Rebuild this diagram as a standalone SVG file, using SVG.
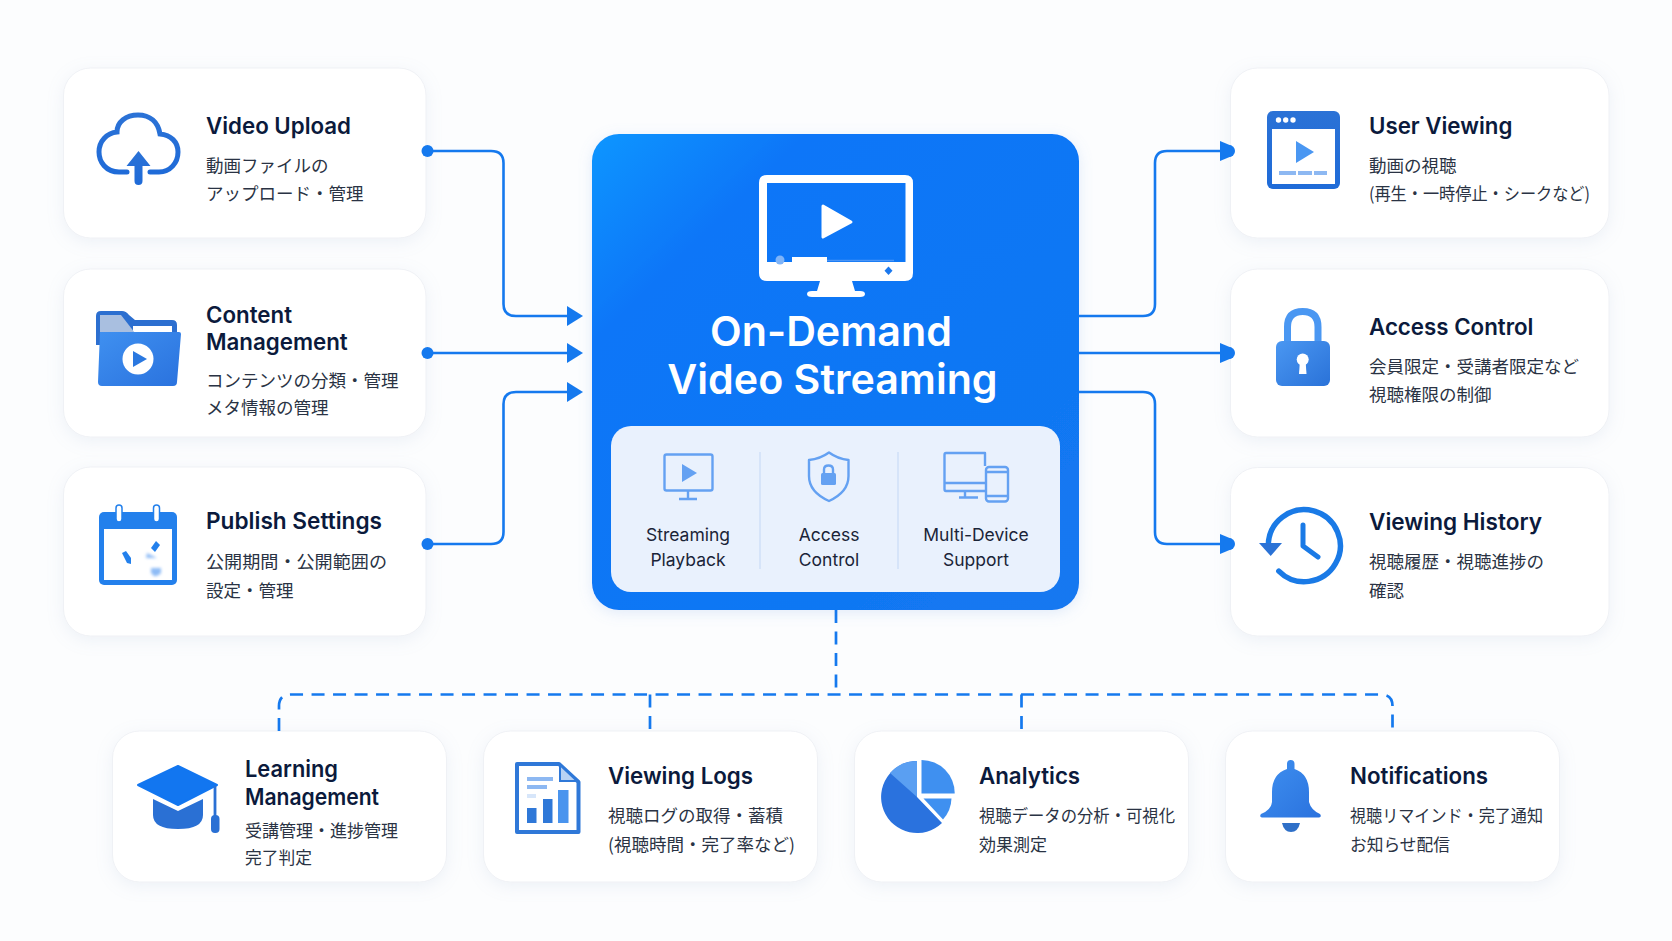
<svg xmlns="http://www.w3.org/2000/svg" width="1672" height="941" viewBox="0 0 1672 941">
<style>
.card{fill:#fff;stroke:#eff1f5;stroke-width:1;filter:url(#sh)}
.t{font-family:Inter,"Liberation Sans",sans-serif;font-weight:600;font-size:22.300px;fill:#0b1a3c}
.s{font-family:"Noto Sans CJK JP","Noto Sans",sans-serif;font-size:17.500px;fill:#2a3344}
.h{font-family:Inter,"Liberation Sans",sans-serif;font-weight:600;font-size:41.200px;fill:#fff;text-anchor:middle}
.p{font-family:Inter,"Liberation Sans",sans-serif;font-size:17.500px;fill:#1a2438;text-anchor:middle}
.ln{fill:none;stroke:#1579ee;stroke-width:2.600}
.ds{fill:none;stroke:#1579ee;stroke-width:2.700;stroke-dasharray:13 8.500}
.ar{fill:#1579ee}
.pi{fill:none;stroke:#64a1f2;stroke-width:2.400;stroke-linejoin:round}
.pf{fill:#64a1f2}
</style>
<defs>
<filter id="sh" x="-10%" y="-15%" width="120%" height="135%"><feDropShadow dx="0" dy="4" stdDeviation="8" flood-color="#9fb0cc" flood-opacity="0.16"/></filter>
<filter id="sc" x="-10%" y="-10%" width="120%" height="120%"><feDropShadow dx="0" dy="3" stdDeviation="7" flood-color="#7fa8e8" flood-opacity="0.22"/></filter>
<filter id="bl" x="-30%" y="-30%" width="160%" height="160%"><feGaussianBlur stdDeviation="1.600"/></filter>
<linearGradient id="gc" x1="0" y1="0" x2="1" y2="1"><stop offset="0" stop-color="#0f96ff"/><stop offset="0.22" stop-color="#0a76f8"/><stop offset="1" stop-color="#1478f0"/></linearGradient>
<linearGradient id="gi" x1="0" y1="0" x2="1" y2="1"><stop offset="0" stop-color="#4a97f2"/><stop offset="1" stop-color="#2a72d8"/></linearGradient>
<linearGradient id="gd" x1="0" y1="0" x2="0" y2="1"><stop offset="0" stop-color="#2b72d6"/><stop offset="1" stop-color="#1f6bd8"/></linearGradient>
<linearGradient id="gb" x1="0" y1="0" x2="1" y2="1"><stop offset="0" stop-color="#3f90f0"/><stop offset="1" stop-color="#2a72de"/></linearGradient>
</defs>
<rect width="1672" height="941" fill="#fcfdfe"/>

<g id="center">
<rect x="592" y="134" width="487" height="476" rx="27" fill="url(#gc)" filter="url(#sc)"/>
<path fill="#fff" fill-rule="evenodd" d="M767 175H905Q913 175 913 183V273Q913 281 905 281H852L855 291H860Q865 291 865 294Q865 297 860 297H812Q807 297 807 294Q807 291 812 291H817L820 281H767Q759 281 759 273V183Q759 175 767 175ZM767 183V262H905.500V183Z"/>
<path fill="#fff" stroke="#fff" stroke-width="3" stroke-linejoin="round" d="M823 206L851 222L823 237Z"/>
<rect x="792" y="257" width="35" height="5" fill="#fff"/>
<path d="M827 260.500H894" stroke="#4a95f6" stroke-width="1.500"/>
<circle cx="780" cy="260" r="4.500" fill="#7fb4f8"/>
<path d="M888.500 266.500L892.500 270.700L888.500 275L884.500 270.700Z" fill="#1a78ee"/>
<text class="h" x="831" y="346">On-Demand</text>
<text class="h" x="832.500" y="394">Video Streaming</text>
<rect x="611" y="426" width="449" height="166" rx="20" fill="#e9f1fd"/>
<path d="M760 452V569M898 452V569" stroke="#cfe0f7" stroke-width="1.500"/>
<rect class="pi" x="664.500" y="454.500" width="48" height="36" rx="2"/>
<path class="pi" d="M688 491V498M679 499H697"/>
<path class="pf" d="M682 464L697 473L682 482Z"/>
<path class="pi" d="M829 452.500Q838 459 848.500 460V476Q848.500 492 829 501Q809 492 809 476V460Q820 459 829 452.500Z"/>
<rect class="pf" x="821" y="473" width="15" height="12" rx="1.500"/>
<path class="pi" d="M824 473V469.500Q824 465.500 828.500 465.500Q833 465.500 833 469.500V473"/>
<path class="pi" d="M985 466V453H946Q944.500 453 944.500 455V489Q944.500 491 946 491H985M945 483H985M965 491V497M959 497.500H978"/>
<rect class="pi" x="986" y="467" width="22" height="34.500" rx="3"/>
<path class="pi" d="M986 472H1008M986 496H1008"/>
<text class="p" x="688" y="541">Streaming</text><text class="p" x="688" y="566">Playback</text>
<text class="p" x="829" y="541">Access</text><text class="p" x="829" y="566">Control</text>
<text class="p" x="976" y="541">Multi-Device</text><text class="p" x="976" y="566">Support</text>
</g>

<g id="video-upload">
<rect class="card" x="63.500" y="68" width="362.500" height="170" rx="27"/>
<path fill="none" stroke="url(#gd)" stroke-width="5" stroke-linecap="round" d="M127 172H119C106 172 99 162 99 152C99 141 107 133 117 132C117 122 126 115 138 115C150 115 158 122 160 134C171 135 178 142 178 152C178 163 170 172 159 172H150"/>
<path fill="url(#gd)" d="M138.500 151L150.500 166H142.500V181Q142.500 185 138.500 185Q134.500 185 134.500 181V166H126.500Z"/>
<text class="t" x="206" y="134">Video Upload</text>
<text class="s" x="206" y="171.500">動画ファイルの</text><text class="s" x="206" y="200">アップロード・管理</text>
</g>

<g id="content-management">
<rect class="card" x="63.500" y="269" width="362.500" height="168" rx="27"/>
<path fill="#2c6fd0" d="M101 311H122Q126 311 129 315L135 320H172Q177 320 177 325V345H96V316Q96 311 101 311Z"/>
<path fill="#fff" d="M133 326H172V336H133Z"/>
<path fill="#a9bfe0" d="M100 315H121L135 333H100Z"/>
<path fill="url(#gb)" d="M100 332H179Q181 332 181 334L177 382Q177 386 173 386H102Q98 386 98 382Z"/>
<circle cx="138" cy="359" r="15.500" fill="#fff"/>
<path fill="#2a78e0" d="M133 351L147 359L133 367Z"/>
<text class="t" x="206" y="322.500">Content</text><text class="t" x="206" y="350">Management</text>
<text class="s" x="206" y="386.500">コンテンツの分類・管理</text><text class="s" x="206" y="414">メタ情報の管理</text>
</g>

<g id="publish-settings">
<rect class="card" x="63.500" y="467" width="362.500" height="169" rx="27"/>
<rect x="99" y="512" width="78" height="73" rx="5" fill="#2380ec"/>
<rect x="104" y="529" width="68" height="51" fill="#fff"/>
<rect x="116" y="505" width="6" height="17" rx="3" fill="#fff" stroke="#2380ec" stroke-width="1.500"/>
<rect x="153.500" y="505" width="6" height="17" rx="3" fill="#fff" stroke="#2380ec" stroke-width="1.500"/>
<path fill="#2380ec" d="M122 553L126 551L131 558V564L127 563Z"/>
<path fill="#2380ec" d="M151 548L156 541L160 545L155 552Z"/>
<path fill="#8fbcf6" filter="url(#bl)" d="M147 553L157 558H146ZM151 568H161V573Q158 577 154 576L151 573Z"/>
<text class="t" x="206" y="529" textLength="176" lengthAdjust="spacingAndGlyphs">Publish Settings</text>
<text class="s" x="206" y="568" textLength="181" lengthAdjust="spacingAndGlyphs">公開期間・公開範囲の</text><text class="s" x="206" y="597">設定・管理</text>
</g>

<g id="user-viewing">
<rect class="card" x="1230.500" y="68" width="378.500" height="170" rx="27"/>
<rect x="1267" y="111" width="73" height="78" rx="6" fill="url(#gd)"/>
<rect x="1272" y="129" width="63" height="55" fill="#fff"/>
<circle cx="1278.500" cy="120" r="2.700" fill="#fff"/><circle cx="1285.700" cy="120" r="2.700" fill="#fff"/><circle cx="1293" cy="120" r="2.700" fill="#fff"/>
<path fill="#4a97f2" d="M1296 141L1314 152L1296 163Z"/>
<path fill="#8db8f2" d="M1279 171H1296V175H1279ZM1298 171H1312V175H1298ZM1314 171H1327V175H1314Z"/>
<text class="t" x="1369" y="134">User Viewing</text>
<text class="s" x="1369" y="171.500">動画の視聴</text><text class="s" x="1369" y="200" textLength="221" lengthAdjust="spacingAndGlyphs">(再生・一時停止・シークなど)</text>
</g>

<g id="access-control">
<rect class="card" x="1230.500" y="269" width="378.500" height="168" rx="27"/>
<path fill="none" stroke="#4a97f2" stroke-width="7" d="M1287.500 342V327Q1287.500 311.500 1302.700 311.500Q1318 311.500 1318 327V342"/>
<rect x="1276" y="341" width="54" height="45" rx="6" fill="url(#gi)"/>
<circle cx="1302.700" cy="359.500" r="6" fill="#fff"/>
<path fill="#fff" d="M1300 360H1305.500L1306.500 374H1299Z"/>
<text class="t" x="1369" y="335">Access Control</text>
<text class="s" x="1369" y="372.500">会員限定・受講者限定など</text><text class="s" x="1369" y="400.500">視聴権限の制御</text>
</g>

<g id="viewing-history">
<rect class="card" x="1230.500" y="467.500" width="378.500" height="168.500" rx="27"/>
<path fill="none" stroke="#1a7ae6" stroke-width="5.500" stroke-linecap="round" d="M1268.300 545.700A36 36 0 1 1 1278.800 571.100"/>
<path fill="#2a72d6" d="M1259 543H1282L1270.700 556Z"/>
<path fill="none" stroke="#1a7ae6" stroke-width="5" stroke-linecap="round" stroke-linejoin="round" d="M1303 525V546L1318 557"/>
<text class="t" x="1369" y="529.500" textLength="173" lengthAdjust="spacingAndGlyphs">Viewing History</text>
<text class="s" x="1369" y="568">視聴履歴・視聴進捗の</text><text class="s" x="1369" y="597">確認</text>
</g>

<g id="learning-management">
<rect class="card" x="112.500" y="731" width="334" height="151" rx="27"/>
<path fill="#2a70d4" d="M153 799L178 811L203 799V815Q203 829 178 829Q153 829 153 815Z"/>
<path fill="#1276f0" stroke="#1276f0" stroke-width="2" stroke-linejoin="round" d="M138 785L178 766L217 785L178 805Z"/>
<path fill="none" stroke="#2a70d4" stroke-width="2.800" d="M215 786V816"/>
<rect x="211" y="815" width="8.500" height="18" rx="4" fill="#2a70d4"/>
<text class="t" x="245" y="777" textLength="93" lengthAdjust="spacingAndGlyphs">Learning</text><text class="t" x="245" y="804.500" textLength="134" lengthAdjust="spacingAndGlyphs">Management</text>
<text class="s" x="245" y="837" textLength="153" lengthAdjust="spacingAndGlyphs">受講管理・進捗管理</text><text class="s" x="245" y="864" textLength="67" lengthAdjust="spacingAndGlyphs">完了判定</text>
</g>

<g id="viewing-logs">
<rect class="card" x="483.500" y="731" width="334" height="151" rx="27"/>
<path fill="#fff" stroke="#2f78d8" stroke-width="4" stroke-linejoin="round" d="M517 764H559L578.500 782V832H517Z"/>
<path fill="#b9d2f4" stroke="#2f78d8" stroke-width="2" d="M560 765V781H577Z"/>
<path fill="#8db8f2" d="M527 777H553V781H527ZM527 785H547V789H527Z"/>
<path fill="#d7e6fa" d="M527 794H536V798H527Z"/>
<rect x="527" y="808" width="9.500" height="15" fill="#2f78d8"/><rect x="543" y="799" width="9.500" height="24" fill="#2f78d8"/><rect x="558" y="790" width="10.500" height="33" fill="#4a94ee"/>
<text class="t" x="608" y="784">Viewing Logs</text>
<text class="s" x="608" y="822">視聴ログの取得・蓄積</text><text class="s" x="608" y="851">(視聴時間・完了率など)</text>
</g>

<g id="analytics">
<rect class="card" x="854.500" y="731" width="334" height="151" rx="27"/>
<path fill="#2a72de" d="M917 797L942 823A36 36 0 1 1 917 761Z"/>
<path fill="#5a9ff2" d="M917 797L890 773A36 36 0 0 1 917 761Z"/>
<path fill="#3f90f0" d="M921.500 760A33 33 0 0 1 954.700 793.500H921.500Z"/>
<path fill="#3f90f0" d="M923.500 798.500H951.500A33 33 0 0 1 943 819.500Z"/>
<text class="t" x="979" y="784">Analytics</text>
<text class="s" x="979" y="822" textLength="196" lengthAdjust="spacingAndGlyphs">視聴データの分析・可視化</text><text class="s" x="979" y="851" textLength="68" lengthAdjust="spacingAndGlyphs">効果測定</text>
</g>

<g id="notifications">
<rect class="card" x="1225.500" y="731" width="334" height="151" rx="27"/>
<path fill="url(#gb)" d="M1287 769V764Q1287 760 1290.700 760Q1294.500 760 1294.500 764V769Q1309 774 1309 792V802Q1311 810 1320 814Q1322 817 1319 817.500H1262Q1259 817 1261 814Q1271 810 1272 802V792Q1272 774 1287 769Z"/>
<path fill="#2f70c8" d="M1282 823H1300Q1298 832 1291 832Q1284 832 1282 823Z"/>
<text class="t" x="1350" y="784">Notifications</text>
<text class="s" x="1350" y="822" textLength="193" lengthAdjust="spacingAndGlyphs">視聴リマインド・完了通知</text><text class="s" x="1350" y="851" textLength="100" lengthAdjust="spacingAndGlyphs">お知らせ配信</text>
</g>

<g id="connectors">
<path class="ln" d="M427 151H491Q503.500 151 503.500 163V304Q503.500 316 516 316H570"/>
<path class="ln" d="M427 353H570"/>
<path class="ln" d="M427 544H491Q503.500 544 503.500 532V404Q503.500 392 516 392H570"/>
<path class="ln" d="M1079 316H1143Q1155 316 1155 304V163Q1155 151 1167 151H1224"/>
<path class="ln" d="M1079 353H1224"/>
<path class="ln" d="M1079 392H1143Q1155 392 1155 404V532Q1155 544 1167 544H1224"/>
<circle class="ar" cx="427.500" cy="151" r="6"/><circle class="ar" cx="427.500" cy="353" r="6"/><circle class="ar" cx="427.500" cy="544" r="6"/>
<path class="ar" d="M567 306L583 316L567 326Z"/><path class="ar" d="M567 343L583 353L567 363Z"/><path class="ar" d="M567 382L583 392L567 402Z"/>
<path class="ar" d="M1220 141L1232 146V156L1220 161Z"/><circle class="ar" cx="1229" cy="151" r="6"/>
<path class="ar" d="M1220 343L1232 348V358L1220 363Z"/><circle class="ar" cx="1229" cy="353" r="6"/>
<path class="ar" d="M1220 534L1232 539V549L1220 554Z"/><circle class="ar" cx="1229" cy="544" r="6"/>
<path class="ds" d="M836 610V694"/>
<path class="ds" d="M279 731V706Q279 694.500 291 694.500H1381Q1392.500 694.500 1392.500 706V731"/>
<path class="ds" d="M650 694.500V731"/>
<path class="ds" d="M1021.500 694.500V731"/>
</g>
</svg>
